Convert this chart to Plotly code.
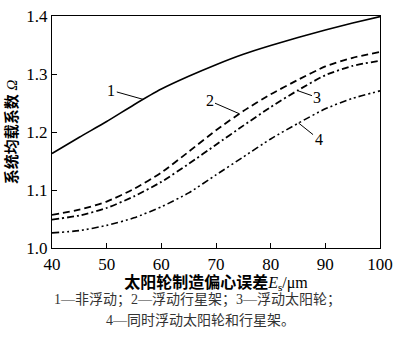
import numpy as np
import plotly.graph_objects as go

# Sun-gear manufacturing eccentricity error E_s (μm)
ecc_um = [40, 45, 50, 55, 60, 65, 70, 75, 80, 85, 90, 95, 100]

# Load-sharing coefficient Ω for each floating arrangement
omega_fixed = [1.163, 1.191, 1.218, 1.247, 1.274, 1.296, 1.316, 1.334, 1.349, 1.363, 1.376, 1.388, 1.399]
omega_carrier = [1.057, 1.066, 1.080, 1.102, 1.130, 1.166, 1.203, 1.236, 1.265, 1.290, 1.313, 1.328, 1.338]
omega_sun = [1.049, 1.056, 1.069, 1.089, 1.114, 1.145, 1.178, 1.211, 1.243, 1.272, 1.298, 1.314, 1.323]
omega_both = [1.026, 1.030, 1.039, 1.052, 1.071, 1.095, 1.126, 1.157, 1.188, 1.215, 1.240, 1.258, 1.271]

curve_labels = ["1", "2", "3", "4"]
y_ticks = [1.0, 1.1, 1.2, 1.3, 1.4]
x_ticks = [40, 50, 60, 70, 80, 90, 100]

FONT = "Liberation Serif, Times New Roman, Noto Sans CJK SC, serif"

series = [
    (omega_fixed, "solid", 1.6),
    (omega_carrier, "7px,4px", 1.8),
    (omega_sun, "7px,3px,2px,3px", 1.8),
    (omega_both, "7px,3px,2px,3px,2px,3px", 1.6),
]

fig = go.Figure()
for vals, dash, w in series:
    fig.add_trace(go.Scatter(
        x=ecc_um, y=vals, mode="lines",
        line=dict(color="black", width=w, dash=dash, shape="spline", smoothing=0.6),
        showlegend=False, hoverinfo="skip",
    ))

# Leader-line labels: (curve index, x on curve, text offset in px)
leaders = [(0, 56.7, -32, -9), (1, 74.3, -30, -13), (2, 84.9, 20, 7), (3, 85.1, 20, 16)]
for idx, xv, ax, ay in leaders:
    yv = float(np.interp(xv, ecc_um, series[idx][0]))
    fig.add_annotation(
        x=xv, y=yv, xref="x", yref="y", text=curve_labels[idx],
        showarrow=True, arrowhead=0, arrowwidth=1, arrowcolor="black",
        ax=ax, ay=ay, standoff=0,
        font=dict(family=FONT, size=16, color="black"),
    )

# Caption under the chart
fig.add_annotation(
    x=0.5, y=0, xref="paper", yref="paper", xanchor="center", yanchor="middle",
    text="1—非浮动；2—浮动行星架；3—浮动太阳轮；", showarrow=False,
    xshift=-19, yshift=-52, font=dict(family=FONT, size=14, color="#333"),
)
fig.add_annotation(
    x=0.5, y=0, xref="paper", yref="paper", xanchor="center", yanchor="middle",
    text="4—同时浮动太阳轮和行星架。", showarrow=False,
    xshift=-16, yshift=-72, font=dict(family=FONT, size=14, color="#333"),
)

axis_common = dict(
    showline=True, linecolor="black", linewidth=1.3, mirror=True,
    ticks="inside", ticklen=5, tickwidth=1.2, tickcolor="black",
    showgrid=False, zeroline=False, ticklabeloverflow="allow",
    tickfont=dict(family=FONT, size=17, color="black"),
)

fig.update_xaxes(
    range=[40, 100], tickvals=x_ticks,
    title=dict(text="<b>太阳轮制造偏心误差</b><i>E</i><sub>s</sub>/μm",
               font=dict(family=FONT, size=16, color="black"), standoff=0),
    **axis_common,
)
fig.update_yaxes(
    range=[1.0, 1.4], tickvals=y_ticks, ticktext=[f"{v:.1f}" for v in y_ticks],
    title=dict(text="<b>系统均载系数</b> <i>Ω</i>",
               font=dict(family=FONT, size=15, color="black"), standoff=4),
    **axis_common,
)

fig.update_layout(
    width=400, height=340,
    margin=dict(l=52, r=14, t=7, b=92),
    paper_bgcolor="white", plot_bgcolor="white",
)

fig.write_html("out.html")
